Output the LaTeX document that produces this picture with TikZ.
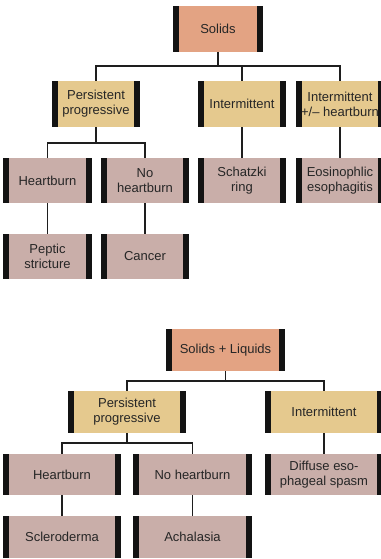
\documentclass[tikz,border=0pt]{standalone}
\usepackage{fontspec}
\setmainfont{Liberation Sans}
\definecolor{topc}{HTML}{E3A383}
\definecolor{midc}{HTML}{E5C98E}
\definecolor{lowc}{HTML}{C9AEA9}
\definecolor{barc}{HTML}{131313}
\definecolor{txtc}{HTML}{262626}
\definecolor{linec}{HTML}{1E1E1E}
\tikzset{
  box/.style={inner sep=0pt, align=center, text=txtc,
    font=\fontsize{13}{15}\selectfont,
    path picture={
      \fill[barc] (path picture bounding box.north west) rectangle ([xshift=6pt]path picture bounding box.south west);
      \fill[barc] (path picture bounding box.north east) rectangle ([xshift=-6pt]path picture bounding box.south east);
    }},
  topbox/.style={box, fill=topc},
  midbox/.style={box, fill=midc},
  lowbox/.style={box, fill=lowc},
  conn/.style={draw=linec, line width=1.4pt}
}
\begin{document}
\begin{tikzpicture}[x=1pt,y=-1pt]
\useasboundingbox (0,0) rectangle (380,559);
% tree 1
\node[topbox, minimum width=90pt, minimum height=46pt] (s1) at (218,29) {Solids};
\node[midbox, minimum width=88pt, minimum height=46pt] (pp1) at (96,104) {Persistent\\progressive};
\node[midbox, minimum width=88pt, minimum height=46pt] (int1) at (242,104) {Intermittent};
\node[midbox, minimum width=88pt, minimum height=46pt] (ih1) at (340,104) {Intermittent\\+/– heartburn};
\node[lowbox, minimum width=89pt, minimum height=45pt] (hb1) at (47.5,180.5) {Heartburn};
\node[lowbox, minimum width=88pt, minimum height=45pt] (nhb1) at (145,180.5) {No\\heartburn};
\node[lowbox, minimum width=88pt, minimum height=45pt] (sch) at (242,180.5) {Schatzki\\ring};
\node[lowbox, minimum width=88pt, minimum height=45pt] (eos) at (340,180.5) {Eosinophlic\\esophagitis};
\node[lowbox, minimum width=89pt, minimum height=45pt] (pep) at (47.5,256.5) {Peptic\\stricture};
\node[lowbox, minimum width=88pt, minimum height=45pt] (can) at (145,256.5) {Cancer};
\coordinate (j1) at (218,66);
\coordinate (j2) at (96,143);
\draw[conn] (s1) -- (j1);
\draw[conn] (j1) -| (pp1);
\draw[conn] (j1) -| (int1);
\draw[conn] (j1) -| (ih1);
\draw[conn] (pp1) -- (j2);
\draw[conn] (j2) -| (hb1);
\draw[conn] (j2) -| (nhb1);
\draw[conn] (int1) -- (sch);
\draw[conn] (ih1) -- (eos);
\draw[conn] (hb1) -- (pep);
\draw[conn] (nhb1) -- (can);
% tree 2
\node[topbox, minimum width=119pt, minimum height=42pt] (s2) at (225.5,350) {Solids + Liquids};
\node[midbox, minimum width=118pt, minimum height=42pt] (pp2) at (127,412) {Persistent\\progressive};
\node[midbox, minimum width=118pt, minimum height=42pt] (int2) at (324,412) {Intermittent};
\node[lowbox, minimum width=118pt, minimum height=41pt] (hb2) at (62,474.5) {Heartburn};
\node[lowbox, minimum width=119pt, minimum height=41pt] (nhb2) at (192.5,474.5) {No heartburn};
\node[lowbox, minimum width=118pt, minimum height=41pt] (des) at (324,474.5) {Diffuse eso-\\phageal spasm};
\node[lowbox, minimum width=118pt, minimum height=42pt] (scl) at (62,537) {Scleroderma};
\node[lowbox, minimum width=119pt, minimum height=42pt] (ach) at (192.5,537) {Achalasia};
\coordinate (j3) at (225.5,381);
\coordinate (j4) at (127,443);
\draw[conn] (s2) -- (j3);
\draw[conn] (j3) -| (pp2);
\draw[conn] (j3) -| (int2);
\draw[conn] (pp2) -- (j4);
\draw[conn] (j4) -| (hb2);
\draw[conn] (j4) -| (nhb2);
\draw[conn] (int2) -- (des);
\draw[conn] (hb2) -- (scl);
\draw[conn] (nhb2) -- (ach);
\end{tikzpicture}
\end{document}
